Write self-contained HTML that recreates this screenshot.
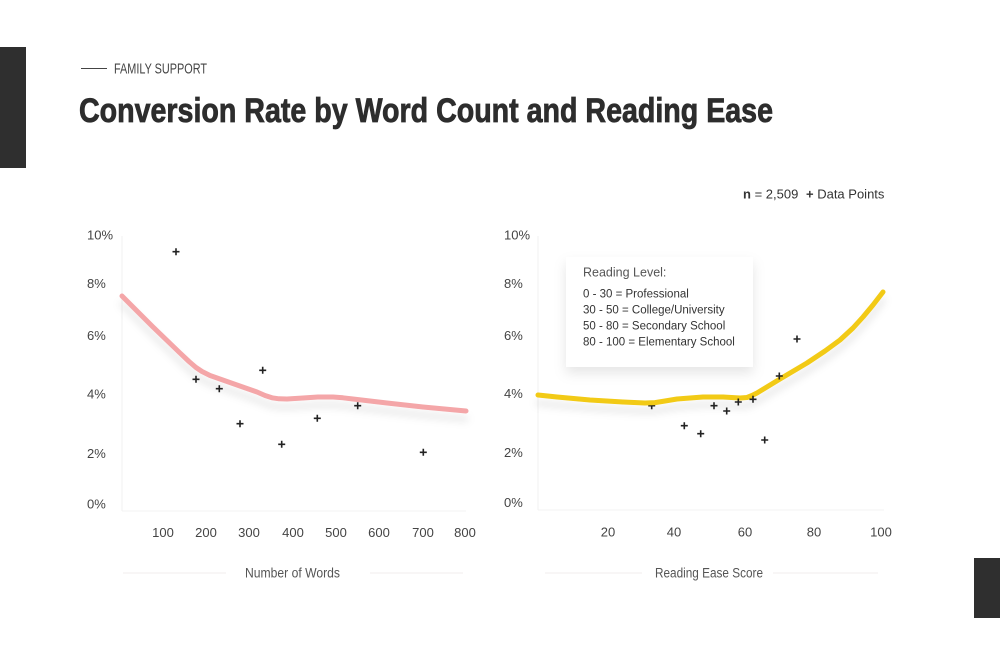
<!DOCTYPE html>
<html><head><meta charset="utf-8"><style>
html,body{margin:0;padding:0;background:#fff;}
svg{display:block;}
text{font-family:"Liberation Sans",sans-serif;}
</style></head><body>
<svg width="1000" height="654" viewBox="0 0 1000 654" xmlns="http://www.w3.org/2000/svg">
<defs>
<filter id="ls" x="-10%" y="-30%" width="120%" height="180%">
<feDropShadow dx="0" dy="8" stdDeviation="4" flood-color="#000" flood-opacity="0.10"/>
</filter>
<filter id="bs" x="-20%" y="-20%" width="140%" height="160%">
<feDropShadow dx="0" dy="6" stdDeviation="6" flood-color="#000" flood-opacity="0.10"/>
</filter>
</defs>
<rect width="1000" height="654" fill="#fff"/>
<rect x="0" y="47" width="26" height="121" fill="#2f2f2f"/>
<rect x="974" y="558" width="26" height="60" fill="#2f2f2f"/>

<line x1="81" y1="68.5" x2="107" y2="68.5" stroke="#444" stroke-width="1"/>
<text x="114" y="73.5" font-size="14.5" fill="#444" textLength="93" lengthAdjust="spacingAndGlyphs">FAMILY SUPPORT</text>
<text x="79" y="122" font-size="34" font-weight="bold" fill="#2d2d2d" stroke="#2d2d2d" stroke-width="0.8" textLength="694" lengthAdjust="spacingAndGlyphs">Conversion Rate by Word Count and Reading Ease</text>

<text x="743" y="198.5" font-size="13" fill="#333"><tspan font-weight="bold">n</tspan> = 2,509</text>
<text x="806" y="198.5" font-size="13" fill="#333"><tspan font-weight="bold">+</tspan> Data Points</text>

<!-- Left chart -->
<line x1="122" y1="236" x2="122" y2="511" stroke="#f0f0f0" stroke-width="1"/>
<line x1="122" y1="511" x2="466" y2="511" stroke="#f3f3f3" stroke-width="1"/>
<g font-size="13" fill="#444">
<text x="87" y="239.5">10%</text>
<text x="87" y="288">8%</text>
<text x="87" y="340">6%</text>
<text x="87" y="398.5">4%</text>
<text x="87" y="458">2%</text>
<text x="87" y="508.5">0%</text>
</g>
<g font-size="13" fill="#444" text-anchor="middle">
<text x="163" y="537">100</text>
<text x="206" y="537">200</text>
<text x="249" y="537">300</text>
<text x="293" y="537">400</text>
<text x="336" y="537">500</text>
<text x="379" y="537">600</text>
<text x="423" y="537">700</text>
<text x="465" y="537">800</text>
</g>
<polyline filter="url(#ls)" fill="none" stroke="#f4a6a8" stroke-width="5" stroke-linejoin="round" stroke-linecap="round"
points="122,296 153,327 180,353 189,361.5 196,367.5 202,371.5 210,375.5 237,385 257,392 265,395.5 272,397.8 279,398.8 287,399 303,398 318,397 333,397 343,397.8 353,399 387,403 423,407 466,411"/>
<g stroke="#222" stroke-width="1.6">
<path d="M172.5 251.7h7M176 248.2v7"/>
<path d="M192.5 379.3h7M196 375.8v7"/>
<path d="M215.8 388.7h7M219.3 385.2v7"/>
<path d="M236.5 423.7h7M240 420.2v7"/>
<path d="M259.2 370.3h7M262.7 366.8v7"/>
<path d="M278.2 444.3h7M281.7 440.8v7"/>
<path d="M313.8 418.3h7M317.3 414.8v7"/>
<path d="M354.2 405.7h7M357.7 402.2v7"/>
<path d="M419.8 452.3h7M423.3 448.8v7"/>
</g>
<line x1="123" y1="573" x2="226" y2="573" stroke="#f2eeee" stroke-width="1"/>
<line x1="370" y1="573" x2="463" y2="573" stroke="#f2eeee" stroke-width="1"/>
<text x="245" y="577.5" font-size="13.5" fill="#555" textLength="95" lengthAdjust="spacingAndGlyphs">Number of Words</text>

<!-- Right chart -->
<line x1="538" y1="236" x2="538" y2="510" stroke="#f0f0f0" stroke-width="1"/>
<line x1="538" y1="510" x2="884" y2="510" stroke="#f3f3f3" stroke-width="1"/>
<g font-size="13" fill="#444">
<text x="504" y="239.5">10%</text>
<text x="504" y="288">8%</text>
<text x="504" y="340">6%</text>
<text x="504" y="398">4%</text>
<text x="504" y="457">2%</text>
<text x="504" y="507">0%</text>
</g>
<g font-size="13" fill="#444" text-anchor="middle">
<text x="608" y="536.5">20</text>
<text x="674" y="536.5">40</text>
<text x="745" y="536.5">60</text>
<text x="814" y="536.5">80</text>
<text x="881" y="536.5">100</text>
</g>
<rect x="566" y="257" width="187" height="110" fill="#fff" filter="url(#bs)"/>
<text x="583" y="276.5" font-size="12.5" fill="#555">Reading Level:</text>
<g font-size="11.5" fill="#333">
<text x="583" y="297.5">0 - 30 = Professional</text>
<text x="583" y="313.5">30 - 50 = College/University</text>
<text x="583" y="329.5">50 - 80 = Secondary School</text>
<text x="583" y="345.5">80 - 100 = Elementary School</text>
</g>
<g stroke="#222" stroke-width="1.6">
<path d="M648.2 405.7h7M651.7 402.2v7"/>
</g>
<polyline filter="url(#ls)" fill="none" stroke="#f2ca12" stroke-width="5" stroke-linejoin="round" stroke-linecap="round"
points="538,395 557,397 590,400 623,402 645,403 655,402.6 665,401 677,399 703,397 723,397 740,398 747,397.5 752,395.5 757,393 780,379 807,363 825,351 840,340 853,328 863,317 873,305 883,292"/>
<g stroke="#222" stroke-width="1.6">
<path d="M680.8 425.7h7M684.3 422.2v7"/>
<path d="M697.2 433.7h7M700.7 430.2v7"/>
<path d="M710.5 405.7h7M714 402.2v7"/>
<path d="M723.2 411h7M726.7 407.5v7"/>
<path d="M734.8 402h7M738.3 398.5v7"/>
<path d="M749.5 399.3h7M753 395.8v7"/>
<path d="M761.2 440h7M764.7 436.5v7"/>
<path d="M775.8 376h7M779.3 372.5v7"/>
<path d="M793.5 339h7M797 335.5v7"/>
</g>
<line x1="545" y1="573" x2="642" y2="573" stroke="#f2eeee" stroke-width="1"/>
<line x1="773" y1="573" x2="878" y2="573" stroke="#f2eeee" stroke-width="1"/>
<text x="655" y="577.5" font-size="13.5" fill="#555" textLength="108" lengthAdjust="spacingAndGlyphs">Reading Ease Score</text>
</svg>
</body></html>
